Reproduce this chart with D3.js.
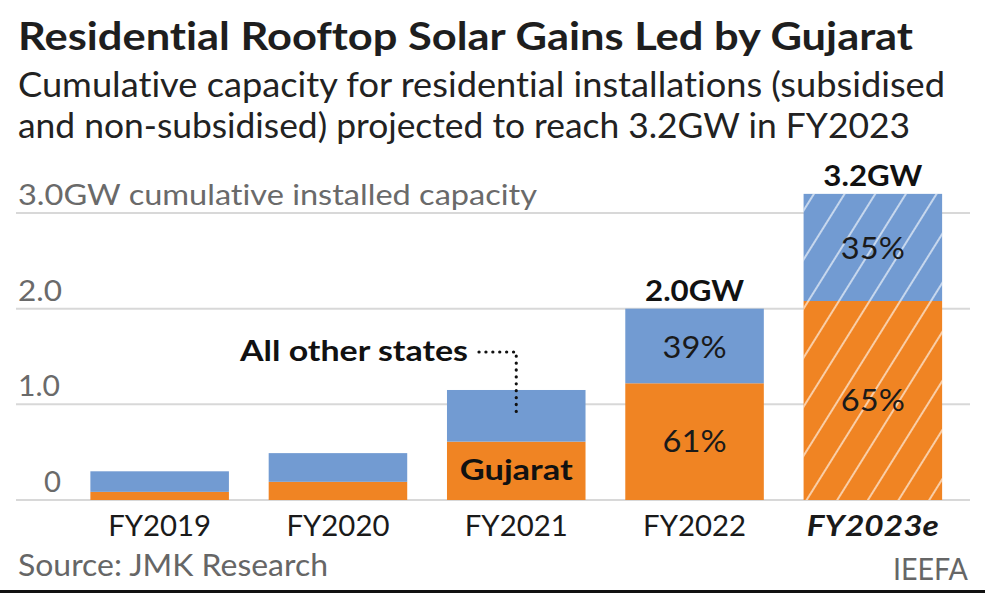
<!DOCTYPE html>
<html>
<head>
<meta charset="utf-8">
<script src="https://cdn.jsdelivr.net/npm/d3@7"></script>
<style>
  html, body { margin: 0; padding: 0; background: #fff; }
  svg { display: block; }
  text { font-family: Lato, "Open Sans", sans-serif; font-variant-ligatures: none; font-feature-settings: "liga" 0, "dlig" 0; }
</style>
</head>
<body>
<svg id="chart" width="985" height="593"></svg>
<script>
// ---- Data ----
const categories = ["FY2019", "FY2020", "FY2021", "FY2022", "FY2023e"];
const gujarat = [0.085, 0.19, 0.61, 1.22, 2.08];
const otherStates = [0.215, 0.30, 0.54, 0.78, 1.12];
const gujaratPct = ["", "", "", "61%", "65%"];
const otherPct = ["", "", "", "39%", "35%"];
const totalLabels = ["", "", "", "2.0GW", "3.2GW"];
const yTicks = [0, 1, 2, 3];
const yTickLabels = ["0", "1.0", "2.0", "3.0GW cumulative installed capacity"];
const estimated = [false, false, false, false, true];

const titleText = "Residential Rooftop Solar Gains Led by Gujarat";
const subtitleLines = [
  "Cumulative capacity for residential installations (subsidised",
  "and non-subsidised) projected to reach 3.2GW in FY2023"
];
const sourceText = "Source: JMK Research";
const creditText = "IEEFA";

// ---- Layout ----
const svg = d3.select("#chart");
const W = 985, H = 593;
const orange = "#f08423";
const blue = "#729bd2";

const step = 178.3;
const x = d3.scaleBand()
  .domain(categories)
  .range([70.5, 70.5 + step * categories.length])
  .paddingInner(0.223)
  .paddingOuter(0.1115);
const y = d3.scaleLinear().domain([0, 3]).range([500, 213]);

// hatch pattern
const defs = svg.append("defs");
const pat = defs.append("pattern")
  .attr("id", "hatch")
  .attr("patternUnits", "userSpaceOnUse")
  .attr("width", 26).attr("height", 26)
  .attr("patternTransform", "rotate(32)");
pat.append("line")
  .attr("x1", 13).attr("y1", -2).attr("x2", 13).attr("y2", 28)
  .attr("stroke", "#ffffff").attr("stroke-opacity", 0.75).attr("stroke-width", 1.6);

// Title & subtitle
svg.append("text")
  .attr("x", 18).attr("y", 50)
  .attr("font-size", 39).attr("font-weight", 700).attr("fill", "#1e1e1e")
  .attr("textLength", 895).attr("lengthAdjust", "spacingAndGlyphs")
  .text(titleText);
const subLens = [927, 892];
subtitleLines.forEach((t, i) => {
  svg.append("text")
    .attr("x", 18).attr("y", 97 + i * 41)
    .attr("font-size", 34).attr("fill", "#222")
    .attr("textLength", subLens[i]).attr("lengthAdjust", "spacingAndGlyphs")
    .text(t);
});

// Gridlines
svg.append("g").selectAll("line").data(yTicks).join("line")
  .attr("x1", 16).attr("x2", 970)
  .attr("y1", d => y(d)).attr("y2", d => y(d))
  .attr("stroke", "#d8d8d8").attr("stroke-width", 2);

// Tick labels
const tickLens = [17, 42, 44, 519];
svg.append("g").selectAll("text").data(yTicks).join("text")
  .attr("x", (d, i) => i === 0 ? 61 : 18)
  .attr("y", d => y(d) - 8)
  .attr("text-anchor", (d, i) => i === 0 ? "end" : "start")
  .attr("font-size", 29).attr("fill", "#6a6a6a")
  .attr("textLength", (d, i) => tickLens[i]).attr("lengthAdjust", "spacingAndGlyphs")
  .text((d, i) => yTickLabels[i]);

// Bars
const bars = svg.append("g");
categories.forEach((c, i) => {
  const g1 = gujarat[i], o1 = gujarat[i] + otherStates[i];
  bars.append("rect")
    .attr("x", x(c)).attr("width", x.bandwidth())
    .attr("y", y(g1)).attr("height", y(0) - y(g1))
    .attr("fill", orange);
  bars.append("rect")
    .attr("x", x(c)).attr("width", x.bandwidth())
    .attr("y", y(o1)).attr("height", y(g1) - y(o1))
    .attr("fill", blue);
  if (estimated[i]) {
    bars.append("rect")
      .attr("x", x(c)).attr("width", x.bandwidth())
      .attr("y", y(o1)).attr("height", y(0) - y(o1))
      .attr("fill", "url(#hatch)");
  }
});

// Percent labels
const lab = svg.append("g");
categories.forEach((c, i) => {
  const cx = x(c) + x.bandwidth() / 2;
  if (gujaratPct[i]) {
    lab.append("text")
      .attr("x", cx).attr("y", y(gujarat[i] / 2) + 10)
      .attr("text-anchor", "middle").attr("font-size", 30)
      .attr("fill", "#1a1a1a")
      .attr("textLength", 64).attr("lengthAdjust", "spacingAndGlyphs")
      .text(gujaratPct[i]);
  }
  if (otherPct[i]) {
    lab.append("text")
      .attr("x", cx).attr("y", y(gujarat[i] + otherStates[i] / 2) + 12)
      .attr("text-anchor", "middle").attr("font-size", 30)
      .attr("fill", "#1a1a1a")
      .attr("textLength", 64).attr("lengthAdjust", "spacingAndGlyphs")
      .text(otherPct[i]);
  }
  if (totalLabels[i]) {
    lab.append("text")
      .attr("x", cx).attr("y", y(gujarat[i] + otherStates[i]) - 8)
      .attr("text-anchor", "middle").attr("font-size", 28).attr("font-weight", 700)
      .attr("fill", "#111")
      .attr("textLength", 99).attr("lengthAdjust", "spacingAndGlyphs")
      .text(totalLabels[i]);
  }
});

// Gujarat label inside FY2021
const fy21 = x("FY2021") + x.bandwidth() / 2;
svg.append("text")
  .attr("x", fy21).attr("y", 480)
  .attr("text-anchor", "middle").attr("font-size", 29).attr("font-weight", 700)
  .attr("fill", "#111")
  .attr("textLength", 113).attr("lengthAdjust", "spacingAndGlyphs")
  .text("Gujarat");

// All other states annotation
svg.append("text")
  .attr("x", 468).attr("y", 361)
  .attr("text-anchor", "end").attr("font-size", 28).attr("font-weight", 700)
  .attr("fill", "#111")
  .attr("textLength", 228).attr("lengthAdjust", "spacingAndGlyphs")
  .text("All other states");
svg.append("path")
  .attr("d", `M479,352 H${fy21} V417`)
  .attr("fill", "none").attr("stroke", "#111").attr("stroke-width", 3.2)
  .attr("stroke-linecap", "round").attr("stroke-dasharray", "0.1,6.8");

// X labels
svg.append("g").selectAll("text").data(categories).join("text")
  .attr("x", d => x(d) + x.bandwidth() / 2).attr("y", 536)
  .attr("text-anchor", "middle").attr("font-size", 29)
  .attr("font-weight", (d, i) => estimated[i] ? 700 : 400)
  .attr("font-style", (d, i) => estimated[i] ? "italic" : "normal")
  .attr("fill", "#1a1a1a")
  .attr("textLength", (d, i) => estimated[i] ? 132 : 103).attr("lengthAdjust", "spacingAndGlyphs")
  .text(d => d);

// Footer
svg.append("text")
  .attr("x", 18).attr("y", 576)
  .attr("font-size", 30).attr("fill", "#666")
  .attr("textLength", 310).attr("lengthAdjust", "spacingAndGlyphs")
  .text(sourceText);
svg.append("text")
  .attr("x", 968).attr("y", 580)
  .attr("text-anchor", "end").attr("font-size", 31).attr("fill", "#666")
  .attr("textLength", 75).attr("lengthAdjust", "spacingAndGlyphs")
  .text(creditText);

// bottom border line
svg.append("rect").attr("x", 0).attr("y", 590).attr("width", W).attr("height", 3).attr("fill", "#111");
</script>
</body>
</html>
